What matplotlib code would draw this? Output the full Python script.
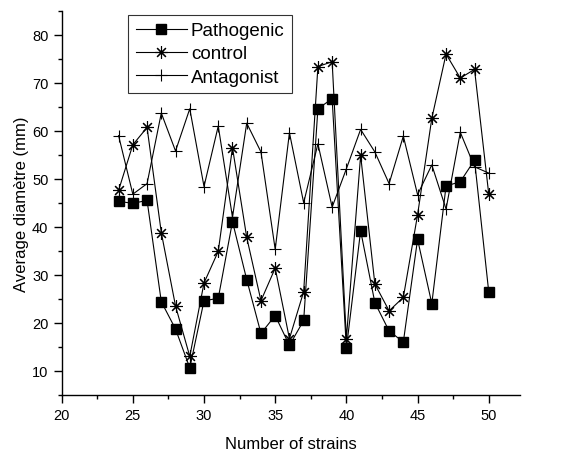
import numpy as np
import matplotlib
matplotlib.use('Agg')
import matplotlib.pyplot as plt
from matplotlib.ticker import MultipleLocator

plt.rcParams['font.family'] = ['Liberation Sans', 'DejaVu Sans']

strains = list(range(24, 51))
pathogenic = [45.3, 44.9, 45.5, 24.4, 18.7, 10.6, 24.6, 25.1, 41.1, 29.0, 17.8, 21.5,
              15.3, 20.5, 64.6, 66.7, 14.7, 39.2, 24.2, 18.3, 16.0, 37.4, 24.0, 48.5,
              49.4, 53.9, 26.4]
control = [47.6, 57.1, 60.7, 38.8, 23.5, 13.0, 28.3, 34.9, 56.5, 37.8, 24.6, 31.4,
           16.7, 26.5, 73.4, 74.4, 16.7, 54.9, 28.1, 22.5, 25.3, 42.5, 62.6, 76.0,
           71.0, 72.8, 46.8]
antagonist = [59.0, 46.8, 49.0, 63.7, 55.8, 64.6, 48.4, 61.0, 42.0, 61.6, 55.6, 35.3,
              59.6, 45.0, 57.3, 44.1, 52.1, 60.3, 55.6, 49.0, 58.9, 46.7, 52.9, 43.7,
              59.7, 52.5, 51.2]

fig = plt.figure(figsize=(5.87, 4.56), dpi=100)
ax = fig.add_axes([0.105, 0.132, 0.781, 0.842])

ax.plot(strains, pathogenic, color='k', lw=0.8, marker='s', ms=7, mfc='k', mec='k', label='Pathogenic')
ax.plot(strains, control, color='k', lw=0.8, marker=(8, 2, 0), ms=9, mew=0.8, label='control')
ax.plot(strains, antagonist, color='k', lw=0.8, marker='+', ms=8.5, mew=0.8, label='Antagonist')

ax.set_xlim(20, 52.2)
ax.set_ylim(5, 85)
ax.xaxis.set_major_locator(MultipleLocator(5))
ax.xaxis.set_minor_locator(MultipleLocator(2.5))
ax.yaxis.set_major_locator(MultipleLocator(10))
ax.yaxis.set_minor_locator(MultipleLocator(5))
ax.set_yticks(np.arange(10, 81, 10))

for s in ['top', 'right']:
    ax.spines[s].set_visible(False)
ax.spines['left'].set_linewidth(1.0)
ax.spines['bottom'].set_linewidth(1.0)
ax.tick_params(which='major', direction='out', length=6, width=1, labelsize=10.5)
ax.tick_params(which='minor', direction='out', length=3, width=1)

ax.set_xlabel('Number of strains', fontsize=12, labelpad=10)
ax.set_ylabel('Average diamètre (mm)', fontsize=12, labelpad=2)

leg = ax.legend(loc='upper left', bbox_to_anchor=(0.145, 0.99), fontsize=13.5, frameon=True,
                fancybox=False, edgecolor='k', borderpad=0.4, labelspacing=0.32,
                handlelength=2.75, handletextpad=0.2, borderaxespad=0)
leg.get_frame().set_linewidth(0.8)

plt.savefig('out.png', dpi=100)
plt.close()
